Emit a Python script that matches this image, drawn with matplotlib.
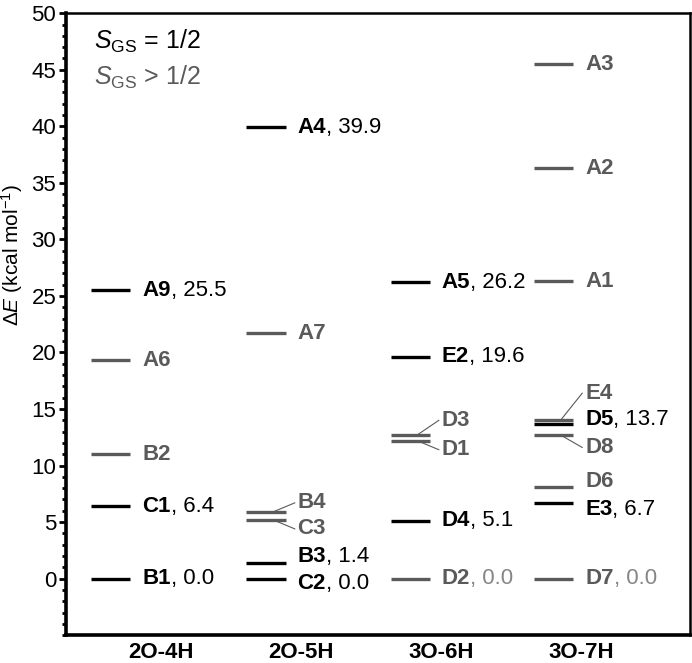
import matplotlib
matplotlib.use('Agg')
import matplotlib.pyplot as plt
from matplotlib.ticker import MultipleLocator

plt.rcParams['font.family'] = ['Liberation Sans', 'DejaVu Sans']
plt.rcParams['mathtext.fontset'] = 'custom'
plt.rcParams['mathtext.rm'] = 'Liberation Sans'
plt.rcParams['mathtext.it'] = 'Liberation Sans:italic'
plt.rcParams['mathtext.bf'] = 'Liberation Sans:bold'

# ---- data ----
columns = ['2O-4H', '2O-5H', '3O-6H', '3O-7H']

names_2o4h = ['B1', 'C1', 'B2', 'A6', 'A9']
vals_2o4h = [0.0, 6.4, 11.0, 19.3, 25.5]
high_2o4h = [False, False, True, True, False]

names_2o5h = ['C2', 'B3', 'C3', 'B4', 'A7', 'A4']
vals_2o5h = [0.0, 1.4, 5.2, 5.9, 21.7, 39.9]
high_2o5h = [False, False, True, True, True, False]

names_3o6h = ['D2', 'D4', 'D1', 'D3', 'E2', 'A5']
vals_3o6h = [0.0, 5.1, 12.2, 12.7, 19.6, 26.2]
high_3o6h = [True, False, True, True, False, False]

names_3o7h = ['D7', 'E3', 'D6', 'D8', 'E4', 'D5', 'A1', 'A2', 'A3']
vals_3o7h = [0.0, 6.7, 8.1, 12.7, 14.0, 13.7, 26.3, 36.3, 45.5]
high_3o7h = [True, False, True, True, True, False, True, True, True]

# labels that also print the energy
show_value = ['B1', 'C1', 'A9', 'C2', 'B3', 'A4', 'D2', 'D4', 'E2', 'A5',
              'D7', 'E3', 'D5']

all_names = [names_2o4h, names_2o5h, names_3o6h, names_3o7h]
all_vals = [vals_2o4h, vals_2o5h, vals_3o6h, vals_3o7h]
all_high = [high_2o4h, high_2o5h, high_3o6h, high_3o7h]

# ---- layout ----
line_center = [-0.36, -0.25, -0.22, -0.195]   # per column, in tick units
half_w = 0.14
label_gap = 0.085
# vertical shift of crowded labels, and which ones get a leader line
label_shift = {'C2': -0.4, 'B3': 0.6, 'B4': 0.8, 'C3': -0.8, 'D3': 1.3,
               'D1': -0.8, 'E4': 2.4, 'D5': 0.4, 'D8': -1.1, 'D6': 0.5,
               'E3': -0.6}
leaders = ['B4', 'C3', 'D3', 'D1', 'E4', 'D8']

BLACK = '#000000'
GRAY = '#5a5a5a'
LIGHT = '#858585'
FS = 16

fig = plt.figure(figsize=(6.92, 6.63), dpi=100)
ax = fig.add_axes([0.0954, 0.042, 0.9016, 0.938])

for i in range(len(columns)):
    x0 = i + line_center[i] - half_w
    x1 = i + line_center[i] + half_w
    xt = x1 + label_gap
    for name, v, hs in zip(all_names[i], all_vals[i], all_high[i]):
        col = GRAY if hs else BLACK
        ax.plot([x0, x1], [v, v], color=col, lw=2.4, solid_capstyle='butt',
                zorder=3 if not hs else 2)
        ly = v + label_shift.get(name, 0.0)
        t = ax.text(xt, ly, name, color=col, fontsize=FS, fontweight='bold',
                    ha='left', va='center')
        if name in show_value:
            vcol = LIGHT if hs else BLACK
            ax.annotate(', %.1f' % v, xy=(1, 0), xycoords=t, color=vcol,
                        fontsize=FS, ha='left', va='bottom')
        if name in leaders:
            ax.plot([x1 - 0.09, xt - 0.02], [v, ly], color=GRAY, lw=0.8,
                    zorder=2)

ax.set_xlim(-0.68, 3.78)
ax.set_ylim(-5, 50)
ax.set_xticks(range(len(columns)))
ax.set_xticklabels(columns, fontsize=FS, fontweight='bold')
ax.tick_params(axis='x', length=0, pad=5)
ax.yaxis.set_major_locator(MultipleLocator(5))
ax.yaxis.set_minor_locator(MultipleLocator(1))
ax.tick_params(axis='y', which='major', length=5, width=2, labelsize=16,
               direction='out', pad=2)
ax.tick_params(axis='y', which='minor', length=3, width=2, direction='out')
ax.set_yticks([0, 5, 10, 15, 20, 25, 30, 35, 40, 45, 50])
for s in ['left', 'bottom']:
    ax.spines[s].set_linewidth(2.6)
for s in ['right', 'top']:
    ax.spines[s].set_linewidth(1.8)

fig.text(0.018, 0.615, r'$\Delta E$ (kcal mol$^{-1}$)', rotation=90,
         fontsize=15, ha='center', va='center')

ax.text(-0.48, 47.5, r'$S_{\rm GS}$ = 1/2', fontsize=18, color=BLACK,
        ha='left', va='center')
ax.text(-0.48, 44.3, r'$S_{\rm GS}$ > 1/2', fontsize=18, color=GRAY,
        ha='left', va='center')

fig.savefig('out.png', dpi=100)
